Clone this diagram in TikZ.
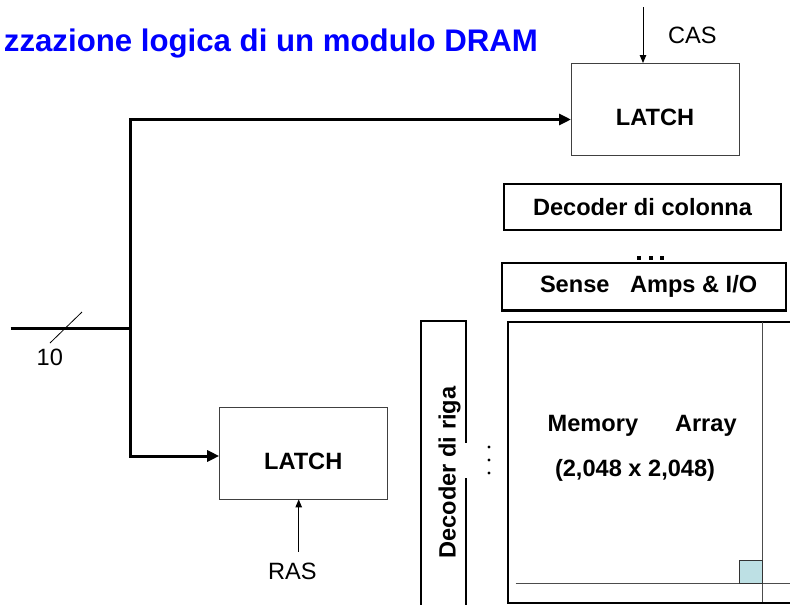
\documentclass[tikz,border=0pt]{standalone}
\usepackage{fontspec}
\setmainfont{Liberation Sans}
\usetikzlibrary{arrows.meta}
\definecolor{titleblue}{RGB}{0,0,255}
\definecolor{cellcyan}{RGB}{189,224,228}
\begin{document}
\begin{tikzpicture}[x=1pt,y=-1pt,
  lbl/.style={font=\fontsize{23.6}{28}\selectfont, inner sep=0pt, outer sep=0pt},
  blbl/.style={font=\fontsize{23.6}{28}\selectfont\bfseries, inner sep=0pt, outer sep=0pt},
  latchbox/.style={draw=black!75, line width=1pt, minimum width=168pt, minimum height=92pt, inner sep=0pt, outer sep=0pt},
  blockbox/.style={draw=black, line width=2.3pt, inner sep=0pt, outer sep=0pt},
  blockline/.style={draw=black, line width=2.3pt},
  bus/.style={line width=3pt, line join=miter},
  busarrows/.style={{Triangle[length=12pt,width=11pt]}-{Triangle[length=12pt,width=11pt]}},
  sig/.style={line width=0.9pt, -{Triangle[length=8pt,width=6.5pt]}},
  fine/.style={line width=1pt, draw=black!70},
  dot/.style={fill=black}]
\useasboundingbox (0,0) rectangle (790,605);

% title
\node[font=\fontsize{31.2}{36}\selectfont\bfseries, text=titleblue, anchor=base east, inner sep=0pt] (title) at (538,51) {zzazione logica di un modulo DRAM};

% latches
\node[latchbox] (latchT) at (655,109) {};
\node[blbl, anchor=base] (latchTtxt) at (655,125) {LATCH};
\node[latchbox] (latchB) at (303.2,453.4) {};
\node[blbl, anchor=base] (latchBtxt) at (303.2,469.3) {LATCH};

% CAS / RAS
\coordinate (casin) at (643,7);
\draw[sig] (casin) -- (latchT.north -| casin);
\node[lbl, anchor=base west] (cas) at (668,43) {CAS};
\coordinate (rasin) at (298.7,551.7);
\draw[sig] (rasin) -- (latchB.south -| rasin);
\node[lbl, anchor=base west] (ras) at (268,579.3) {RAS};

% address bus
\coordinate (in) at (10.7,328);
\coordinate (jm) at (130,328);
\coordinate (jt) at (130,119.5);
\coordinate (jb) at (130,456);
\draw[bus, busarrows] (latchT.west |- jt) -- (jt) -- (jb) -- (latchB.west |- jb);
\draw[bus] (in) -- (jm);
\coordinate (tick1) at (50,343);
\coordinate (tick2) at (82,312);
\draw[line width=0.8pt] (tick1) -- (tick2);
\node[lbl, anchor=base west] (ten) at (36.7,365.7) {10};

% column decoder
\node[blockbox, minimum width=277pt, minimum height=46pt] (deccol) at (642.5,207) {};
\node[blbl, anchor=base] (deccoltxt) at (642.5,215.5) {Decoder di colonna};

% dots
\foreach \xx in {639,650.5,662} {
  \fill[dot] (\xx-2,256) rectangle (\xx+2,260);
}

% sense amps
\node[blockbox, minimum width=284pt, minimum height=47.5pt] (sense) at (644,286.8) {};
\node[blbl, anchor=base west] (sensetxt) at (540,292.7) {Sense};
\node[blbl, anchor=base west] (ampstxt) at (630,292.7) {Amps \& I/O};

% row decoder
\draw[blockline] (421,608) -- (421,321) -- (466,321) -- (466,443);
\draw[blockline] (466,478) -- (466,608);
\node[blbl, rotate=90, anchor=base] (decrigatxt) at (455.5,472.5) {Decoder di riga};
\foreach \yy in {447,460,473} {
  \fill[dot] (489,\yy) circle (1.7pt);
}

% memory array
\draw[blockline] (795,322) -- (508,322) -- (508,602.8) -- (795,602.8);
\draw[fine] (762.7,322) -- (762.7,602);
\draw[fine] (515.7,583.7) -- (795,583.7);
\draw[fill=cellcyan, draw=black!80, line width=1pt] (739.3,560.7) rectangle (762.7,583.7);
\node[blbl, anchor=base west] (memtxt) at (547.7,431) {Memory};
\node[blbl, anchor=base west] (arraytxt) at (675,431) {Array};
\node[blbl, anchor=base west] (sizetxt) at (555,476) {(2,048 x 2,048)};
\end{tikzpicture}
\end{document}
